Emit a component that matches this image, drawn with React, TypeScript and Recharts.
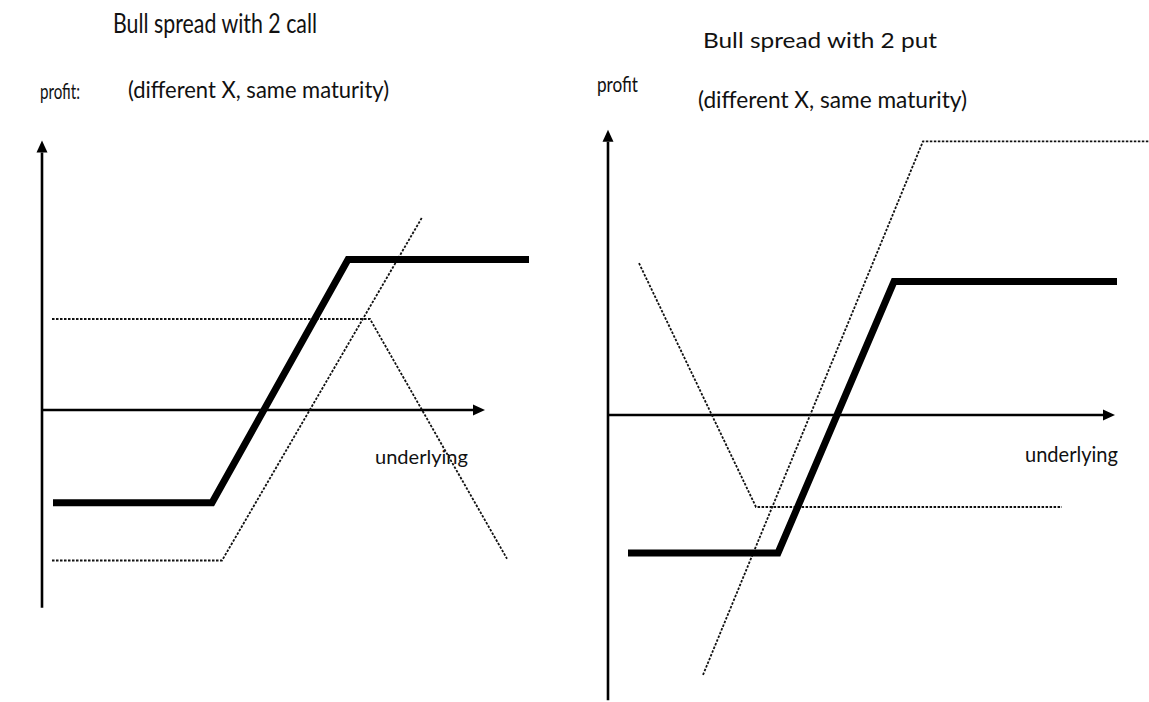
import { LineChart, Line, XAxis, YAxis, ReferenceLine } from "recharts";

// left panel: bull spread built from two calls
const leftSpreadX = [1.1, 17.0, 30.6, 48.7];
const leftSpreadY = [-5.3, -5.3, 8.6, 8.6];
const leftShortCallX = [1.0, 32.8, 46.5];
const leftShortCallY = [5.2, 5.2, -8.5];
const leftLongCallX = [1.0, 18.0, 38.0];
const leftLongCallY = [-8.6, -8.6, 11.0];

// right panel: bull spread built from two puts
const rightSpreadX = [2.0, 17.0, 28.6, 50.9];
const rightSpreadY = [-6.0, -6.0, 5.8, 5.8];
const rightShortPutX = [3.1, 14.8, 45.4];
const rightShortPutY = [6.6, -4.0, -4.0];
const rightLongPutX = [9.5, 31.5, 54.1];
const rightLongPutY = [-11.3, 11.9, 11.9];

const leftTitle = "Bull spread with 2 call";
const rightTitle = "Bull spread with 2 put";
const subTitle = "(different X, same maturity)";
const yLabel = "profit";
const xLabel = "underlying";

const toPoints = (xs: number[], ys: number[]) => xs.map((x, i) => ({ x, y: ys[i] }));

const ArrowLine = (props: any) => {
  const { x1, y1, x2, y2 } = props;
  const dx = x2 - x1;
  const dy = y2 - y1;
  const len = Math.hypot(dx, dy) || 1;
  const ux = dx / len;
  const uy = dy / len;
  const head = 12;
  const half = 5.5;
  const bx = x2 - ux * head;
  const by = y2 - uy * head;
  const px = -uy;
  const py = ux;
  return (
    <g>
      <line x1={x1} y1={y1} x2={bx} y2={by} stroke="#000" strokeWidth={2.6} />
      <polygon
        points={`${x2},${y2} ${bx + px * half},${by + py * half} ${bx - px * half},${by - py * half}`}
        fill="#000"
      />
    </g>
  );
};

const thick = { stroke: "#000", strokeWidth: 7, strokeLinejoin: "miter" as const };
const dotted = { stroke: "#111", strokeWidth: 1.8, strokeDasharray: "2.5 1.5" };

const font = "Lato, 'Open Sans', sans-serif";

export default function App() {
  return (
    <div style={{ position: "absolute", left: 0, top: 0, width: 1149, height: 702, background: "#fff" }}>
      {/* Left chart */}
      <div style={{ position: "absolute", left: 0, top: 0 }}>
        <LineChart width={570} height={702} margin={{ top: 130, right: 28, bottom: 82, left: 42 }}>
          <XAxis type="number" dataKey="x" domain={[0, 50]} hide allowDataOverflow />
          <YAxis type="number" dataKey="y" domain={[-12, 16]} hide allowDataOverflow />
          <ReferenceLine segment={[{ x: 0, y: -11.3 }, { x: 0, y: 15.4 }]} shape={ArrowLine} ifOverflow="visible" />
          <ReferenceLine segment={[{ x: 0, y: 0 }, { x: 44.3, y: 0 }]} shape={ArrowLine} ifOverflow="visible" />
          <Line data={toPoints(leftShortCallX, leftShortCallY)} dataKey="y" {...dotted} dot={false} isAnimationActive={false} />
          <Line data={toPoints(leftLongCallX, leftLongCallY)} dataKey="y" {...dotted} dot={false} isAnimationActive={false} />
          <Line data={toPoints(leftSpreadX, leftSpreadY)} dataKey="y" {...thick} dot={false} isAnimationActive={false} />
        </LineChart>
      </div>

      {/* Right chart */}
      <div style={{ position: "absolute", left: 566, top: 0 }}>
        <LineChart width={583} height={702} margin={{ top: 125.2, right: 0, bottom: 1.8, left: 42 }}>
          <XAxis type="number" dataKey="x" domain={[0, 54.1]} hide allowDataOverflow />
          <YAxis type="number" dataKey="y" domain={[-12.4, 12.6]} hide allowDataOverflow />
          <ReferenceLine segment={[{ x: 0, y: -12.4 }, { x: 0, y: 12.4 }]} shape={ArrowLine} ifOverflow="visible" />
          <ReferenceLine segment={[{ x: 0, y: 0 }, { x: 50.7, y: 0 }]} shape={ArrowLine} ifOverflow="visible" />
          <Line data={toPoints(rightShortPutX, rightShortPutY)} dataKey="y" {...dotted} dot={false} isAnimationActive={false} />
          <Line data={toPoints(rightLongPutX, rightLongPutY)} dataKey="y" {...dotted} dot={false} isAnimationActive={false} />
          <Line data={toPoints(rightSpreadX, rightSpreadY)} dataKey="y" {...thick} dot={false} isAnimationActive={false} />
        </LineChart>
      </div>

      {/* Titles and axis labels */}
      <svg width={1149} height={702} style={{ position: "absolute", left: 0, top: 0, pointerEvents: "none" }} fontFamily={font} fill="#111">
        <text x={113} y={33} fontSize={27} textLength={204} lengthAdjust="spacingAndGlyphs">{leftTitle}</text>
        <text x={40} y={99} fontSize={22} textLength={40} lengthAdjust="spacingAndGlyphs">{yLabel + ":"}</text>
        <text x={128} y={98} fontSize={23} textLength={261} lengthAdjust="spacingAndGlyphs">{subTitle}</text>
        <text x={375} y={464} fontSize={20} textLength={93} lengthAdjust="spacingAndGlyphs">{xLabel}</text>

        <text x={703} y={48} fontSize={22} textLength={234} lengthAdjust="spacingAndGlyphs">{rightTitle}</text>
        <text x={597} y={92} fontSize={21} textLength={41} lengthAdjust="spacingAndGlyphs">{yLabel}</text>
        <text x={698} y={108} fontSize={23} textLength={269} lengthAdjust="spacingAndGlyphs">{subTitle}</text>
        <text x={1025} y={462} fontSize={21} textLength={93} lengthAdjust="spacingAndGlyphs">{xLabel}</text>
      </svg>
    </div>
  );
}
